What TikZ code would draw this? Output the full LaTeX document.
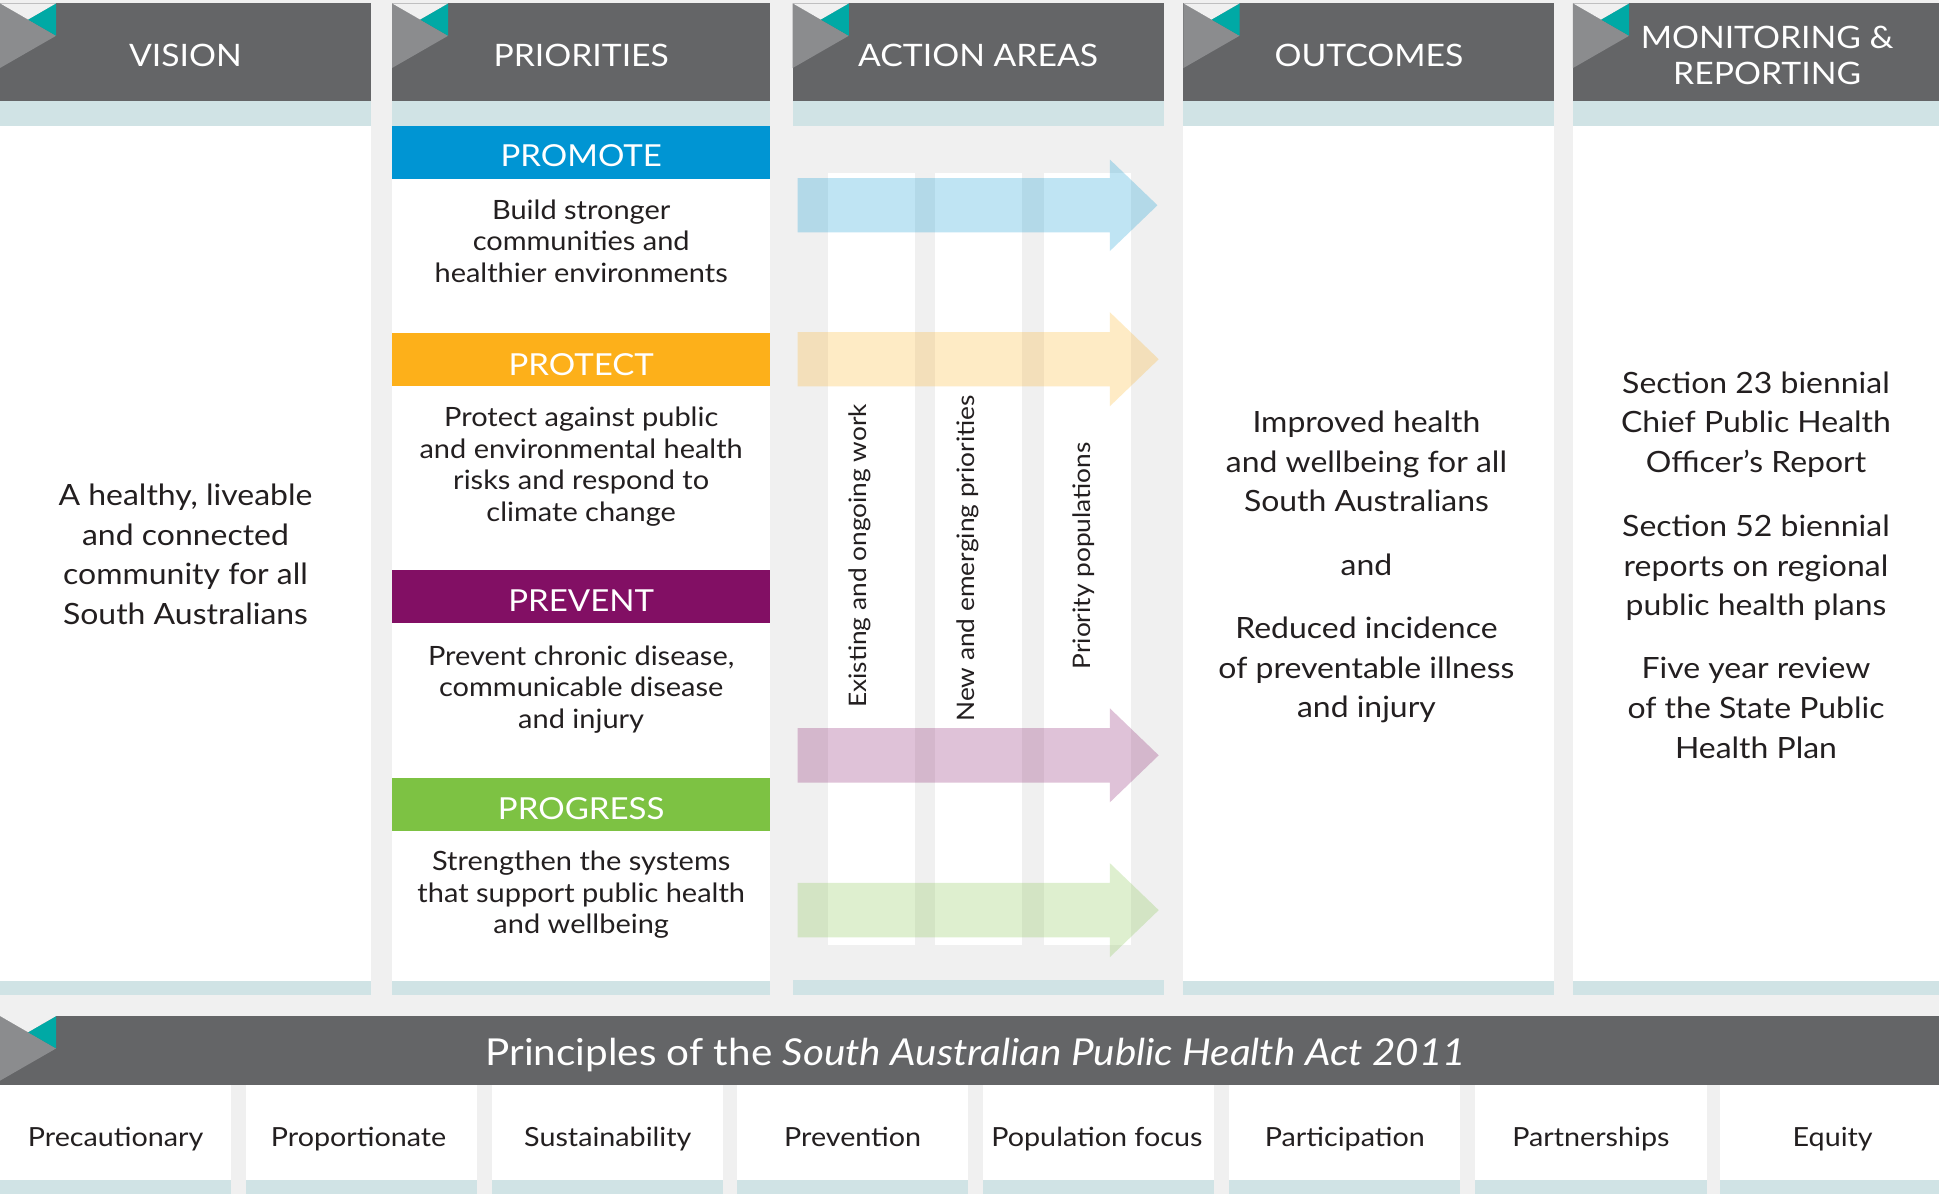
\documentclass[tikz,border=0pt]{standalone}
\usepackage{fontspec}
\setmainfont{Lato}[FakeStretch=1.09]
\usepackage{tikz}

\definecolor{backgrey}{HTML}{F0F0F0}
\definecolor{headgrey}{HTML}{646567}
\definecolor{markgrey}{HTML}{8B8C8E}
\definecolor{markteal}{HTML}{00A9A5}
\definecolor{stripteal}{HTML}{D0E3E5}
\definecolor{promoteblue}{HTML}{0095D3}
\definecolor{protectorange}{HTML}{FDB01A}
\definecolor{preventpurple}{HTML}{820F64}
\definecolor{progressgreen}{HTML}{7DC243}
\definecolor{ink}{HTML}{231F20}

% corner flag of a grey heading, #1 = left, #2 = top
\newcommand{\headmark}[2]{%
\fill[markgrey] (#1,#2) -- (#1+45.4,#2+26.2) -- (#1,#2+52.3) -- cycle;
\fill[markteal] (#1+22.7,#2+13.1) -- (#1+45.4,#2) -- (#1+45.4,#2+26.2) -- cycle;
\fill[backgrey] (#1,#2) -- (#1+22.7,#2+13.1) -- (#1+45.4,#2) -- cycle;}

\begin{document}
\begin{tikzpicture}[x=1pt,y=-1pt,
  every node/.style={inner sep=0pt,text=ink},
  headtext/.style={text=white,font=\fontsize{25}{29.7}\selectfont,anchor=base,align=center},
  bartext/.style={text=white,font=\fontsize{24.5}{29}\selectfont,anchor=base},
  smalltext/.style={font=\fontsize{21.5}{25.6}\selectfont,anchor=base,align=center},
  bigtext/.style={font=\fontsize{23.7}{32}\selectfont,anchor=base,align=center},
  celltext/.style={font=\fontsize{21.3}{27}\selectfont,anchor=base},
  sidetext/.style={font=\fontsize{19.5}{24}\selectfont,rotate=90},
  flow/.style={opacity=0.25}]
\useasboundingbox (0,0) rectangle (1568,965.5);
\fill[backgrey] (0,0) rectangle (1568,965.5);

% columns
\fill[headgrey] (0,2.7) rectangle (300,81.7);
\fill[headgrey] (317,2.7) rectangle (623,81.7);
\fill[headgrey] (641,2.7) rectangle (941,81.7);
\fill[headgrey] (957,2.7) rectangle (1257,81.7);
\fill[headgrey] (1272,2.7) rectangle (1568,81.7);
\headmark{0}{2.7}
\headmark{317}{2.7}
\headmark{641}{2.7}
\headmark{957}{2.7}
\headmark{1272}{2.7}

\fill[stripteal] (0,81.7) rectangle (300,101.6);
\fill[stripteal] (317,81.7) rectangle (623,101.6);
\fill[stripteal] (641,81.7) rectangle (941,101.6);
\fill[stripteal] (957,81.7) rectangle (1257,101.6);
\fill[stripteal] (1272,81.7) rectangle (1568,101.6);

\fill[white] (0,101.6) rectangle (300,793.3);
\fill[white] (317,101.6) rectangle (623,793.3);
\fill[white] (957,101.6) rectangle (1257,793.3);
\fill[white] (1272,101.6) rectangle (1568,793.3);

\fill[stripteal] (0,793.3) rectangle (300,804.4);
\fill[stripteal] (317,793.3) rectangle (623,804.4);
\fill[stripteal] (641,792.5) rectangle (941,804.4);
\fill[stripteal] (957,793.3) rectangle (1257,804.4);
\fill[stripteal] (1272,793.3) rectangle (1568,804.4);

\node[headtext] (vision) at (150,53.4) {VISION};
\node[headtext] (priorities) at (470,53.4) {PRIORITIES};
\node[headtext] (actionareas) at (791,53.4) {ACTION AREAS};
\node[headtext] (outcomes) at (1107,53.4) {OUTCOMES};
\node[headtext] (monitoring) at (1429,68.7) {MONITORING \&\\REPORTING};

% priorities
\fill[promoteblue] (317,102) rectangle (623,144.7);
\fill[protectorange] (317,269.5) rectangle (623,311.9);
\fill[preventpurple] (317,461) rectangle (623,504);
\fill[progressgreen] (317,629) rectangle (623,672);
\node[bartext] (promote) at (470,134.8) {PROMOTE};
\node[bartext] (protect) at (470,303.3) {PROTECT};
\node[bartext] (prevent) at (470,494.5) {PREVENT};
\node[bartext] (progress) at (470,662.5) {PROGRESS};
\node[smalltext] (promotetxt) at (470,228.3) {Build stronger\\communities and\\healthier environments};
\node[smalltext] (protecttxt) at (470,421.8) {Protect against public\\and environmental health\\risks and respond to\\climate change};
\node[smalltext] (preventtxt) at (470,589.2) {Prevent chronic disease,\\communicable disease\\and injury};
\node[smalltext] (progresstxt) at (470,755.2) {Strengthen the systems\\that support public health\\and wellbeing};

% action areas
\fill[white] (669.6,140) rectangle (740,764);
\fill[white] (756,140) rectangle (826.5,764);
\fill[white] (844,140) rectangle (914.6,764);
\fill[promoteblue,flow] (645,144) -- (897.5,144) -- (897.5,129) -- (936,166) -- (897.5,203) -- (897.5,188) -- (645,188) -- cycle;
\fill[protectorange,flow] (645,268.5) -- (897.5,268.5) -- (897.5,252.5) -- (937,290.5) -- (897.5,328.5) -- (897.5,312.5) -- (645,312.5) -- cycle;
\fill[preventpurple,flow] (645,588.8) -- (897.5,588.8) -- (897.5,572.8) -- (937,610.8) -- (897.5,648.8) -- (897.5,632.8) -- (645,632.8) -- cycle;
\fill[progressgreen,flow] (645,714) -- (897.5,714) -- (897.5,698) -- (937,736) -- (897.5,774) -- (897.5,758) -- (645,758) -- cycle;
\node[sidetext] (existing) at (695.5,449.5) {Existing and ongoing work};
\node[sidetext] (newemerging) at (783,451.5) {New and emerging priorities};
\node[sidetext] (prioritypop) at (876.6,449.5) {Priority populations};

% vision, outcomes, monitoring
\node[bigtext] (visiontxt) at (150,505) {A healthy, liveable\\and connected\\community for all\\South Australians};
\node[bigtext] (outcome1) at (1105,414) {Improved health\\and wellbeing for all\\South Australians};
\node[bigtext] (outcomeand) at (1105,465) {and};
\node[bigtext] (outcome2) at (1105,580.5) {Reduced incidence\\of preventable illness\\and injury};
\node[bigtext] (report1) at (1420,382) {Section 23 biennial\\Chief Public Health\\Officer’s Report};
\node[bigtext] (report2) at (1420,498) {Section 52 biennial\\reports on regional\\public health plans};
\node[bigtext] (report3) at (1420,613) {Five year review\\of the State Public\\Health Plan};

% principles
\fill[headgrey] (0,821.6) rectangle (1568,877.4);
\headmark{0}{821.6}
\node[text=white,font=\fontsize{30}{36}\selectfont,anchor=base] (principles) at (789,862) {Principles of the \textit{South Australian Public Health Act 2011}};

\fill[white] (0,877.4) rectangle (187,954);
\fill[white] (199,877.4) rectangle (386,954);
\fill[white] (398,877.4) rectangle (585,954);
\fill[white] (596,877.4) rectangle (783,954);
\fill[white] (795,877.4) rectangle (982,954);
\fill[white] (994,877.4) rectangle (1181,954);
\fill[white] (1193,877.4) rectangle (1380,954);
\fill[white] (1391,877.4) rectangle (1568,954);
\fill[stripteal] (0,954) rectangle (187,965.5);
\fill[stripteal] (199,954) rectangle (386,965.5);
\fill[stripteal] (398,954) rectangle (585,965.5);
\fill[stripteal] (596,954) rectangle (783,965.5);
\fill[stripteal] (795,954) rectangle (982,965.5);
\fill[stripteal] (994,954) rectangle (1181,965.5);
\fill[stripteal] (1193,954) rectangle (1380,965.5);
\fill[stripteal] (1391,954) rectangle (1568,965.5);
\node[celltext] (precautionary) at (93.5,927.3) {Precautionary};
\node[celltext] (proportionate) at (290,927.3) {Proportionate};
\node[celltext] (sustainability) at (491.5,927.3) {Sustainability};
\node[celltext] (prevention) at (689.5,927.3) {Prevention};
\node[celltext] (populationfocus) at (887,927.3) {Population focus};
\node[celltext] (participation) at (1087.5,927.3) {Participation};
\node[celltext] (partnerships) at (1286.5,927.3) {Partnerships};
\node[celltext] (equity) at (1482,927.3) {Equity};
\end{tikzpicture}
\end{document}
